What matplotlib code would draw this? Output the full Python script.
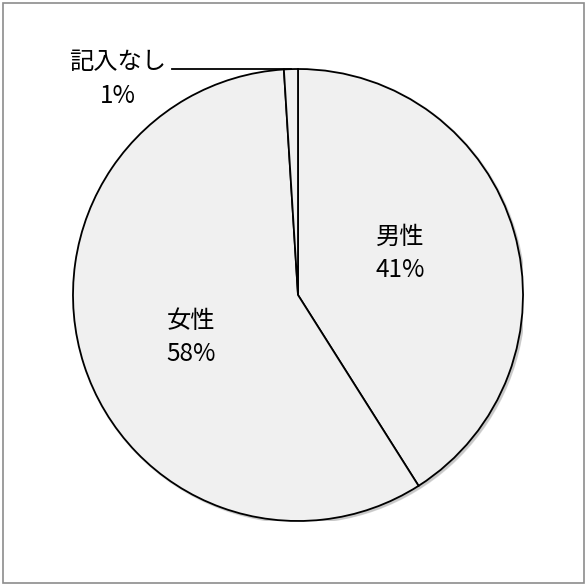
import numpy as np
import matplotlib.pyplot as plt
from matplotlib.patches import Circle, Rectangle

plt.rcParams['font.family'] = ['Noto Sans CJK JP', 'DejaVu Sans']

labels = ['男性', '女性', '記入なし']
shares = [41, 58, 1]

fig = plt.figure(figsize=(5.87, 5.86), dpi=100)

# outer frame
fig.patches.append(Rectangle((3 / 587, 3 / 586), 581 / 587, 580 / 586,
                             transform=fig.transFigure, fill=False,
                             edgecolor='#8c8c8c', linewidth=1.2))

ax = fig.add_axes([73 / 587, 65 / 586, 450 / 587, 452 / 586])

# soft drop shadow under the pie
for i, a in enumerate([0.04, 0.05, 0.06, 0.08]):
    off = 0.004 + 0.003 * i
    r = 1.0 + 0.008 - 0.003 * i
    ax.add_patch(Circle((off, -off), r, facecolor='black', edgecolor='none',
                        alpha=a, zorder=0))

wedges, _ = ax.pie(shares, startangle=90, counterclock=False,
                   colors=['#f0f0f0'] * 3,
                   wedgeprops=dict(edgecolor='black', linewidth=1.3, zorder=2),
                   radius=1.0)

fs = 17.5
# (x, name y, percent y) for each slice label
label_pos = [(0.453, 0.257, 0.111),
             (-0.476, -0.115, -0.261),
             (-0.80, 1.03, 0.88)]
for name, val, (x, y1, y2) in zip(labels, shares, label_pos):
    ax.text(x, y1, name, ha='center', va='center', fontsize=fs, zorder=3)
    ax.text(x, y2, f'{val}%', ha='center', va='center', fontsize=fs, zorder=3)

# leader line for the small slice
mid = np.deg2rad(90 - 360 * (shares[0] + shares[1] + shares[2] / 2) / 100)
ax.plot([-0.56, np.cos(mid)], [1.0, 1.0], color='black', lw=1.3,
        zorder=3, clip_on=False)

ax.set_xlim(-1, 1)
ax.set_ylim(-1, 1)
ax.set_aspect('auto')
ax.axis('off')

fig.savefig('out.png', dpi=100)
